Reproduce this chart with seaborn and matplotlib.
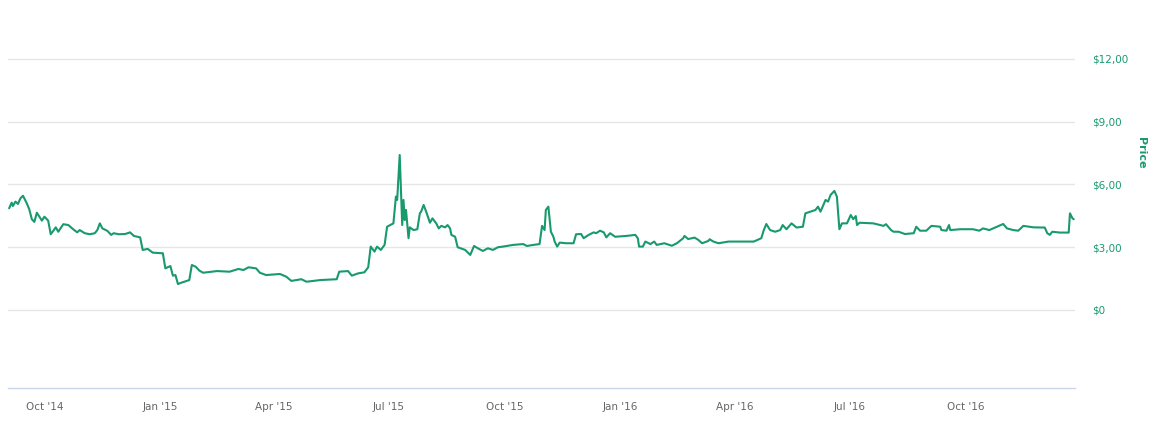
import matplotlib
matplotlib.use("Agg")
import matplotlib.pyplot as plt
import matplotlib.dates as mdates
import matplotlib.ticker as mticker
import numpy as np
import pandas as pd
import seaborn as sns

# days since 2014-09-01 and the price
day_offsets = [
    2, 4, 5, 7, 9, 11, 13, 16, 18, 20, 22, 24, 26, 28, 30, 33, 35, 37, 39, 41,
    45, 49, 52, 56, 58, 62, 66, 70, 72, 74, 76, 80, 83, 85, 89, 94, 98, 101, 106, 108,
    112, 116, 124, 126, 130, 132, 134, 136, 139, 145, 147, 150, 153, 156, 167, 177, 184, 188, 192, 198,
    201, 206, 217, 222, 226, 234, 238, 249, 262, 264, 271, 274, 279, 284, 287, 289, 292, 294, 297, 300,
    302, 307, 309, 310, 312, 313, 314, 315, 316, 317, 319, 320, 323, 326, 328, 329, 331, 333, 336, 338,
    341, 343, 345, 348, 350, 352, 353, 356, 358, 364, 368, 371, 374, 378, 382, 386, 390, 394, 402, 410,
    413, 418, 423, 425, 427, 428, 430, 432, 434, 435, 437, 439, 444, 450, 452, 456, 458, 462, 466, 468,
    471, 474, 476, 479, 483, 492, 499, 501, 502, 505, 507, 511, 514, 516, 522, 528, 532, 537, 538, 541,
    546, 549, 552, 557, 558, 561, 565, 573, 582, 593, 599, 601, 603, 606, 610, 614, 616, 619, 623, 627,
    632, 634, 638, 642, 644, 646, 650, 652, 654, 657, 659, 660, 661, 663, 667, 670, 672, 674, 675, 677,
    688, 696, 698, 702, 704, 708, 713, 720, 722, 725, 730, 734, 741, 742, 746, 748, 749, 757, 767, 772,
    775, 780, 786, 791, 794, 799, 803, 807, 815, 824, 826, 828, 830, 836, 843, 844, 846, 847,
]
prices = [
    4.86, 5.13, 4.97, 5.18, 5.07, 5.34, 5.46, 5.10, 4.81, 4.34, 4.21, 4.65, 4.46, 4.27, 4.46, 4.27, 3.62, 3.78, 3.95, 3.74,
    4.10, 4.06, 3.90, 3.71, 3.82, 3.67, 3.62, 3.67, 3.82, 4.14, 3.90, 3.78, 3.59, 3.67, 3.62, 3.63, 3.71, 3.54, 3.47, 2.87,
    2.92, 2.74, 2.71, 1.99, 2.10, 1.64, 1.67, 1.24, 1.31, 1.43, 2.15, 2.07, 1.88, 1.78, 1.86, 1.83, 1.96, 1.91, 2.04, 1.99,
    1.78, 1.67, 1.72, 1.59, 1.39, 1.47, 1.35, 1.43, 1.47, 1.83, 1.86, 1.64, 1.75, 1.80, 2.04, 3.03, 2.79, 3.03, 2.87, 3.11,
    3.98, 4.14, 5.42, 5.26, 7.41, 5.74, 4.06, 5.26, 4.30, 4.78, 3.43, 3.95, 3.82, 3.86, 4.62, 4.70, 5.02, 4.70, 4.17, 4.38,
    4.14, 3.90, 4.02, 3.95, 4.06, 3.90, 3.59, 3.50, 3.00, 2.87, 2.63, 3.06, 2.95, 2.82, 2.95, 2.87, 3.00, 3.03, 3.11, 3.15,
    3.06, 3.11, 3.15, 4.02, 3.82, 4.78, 4.94, 3.74, 3.50, 3.27, 3.03, 3.22, 3.19, 3.19, 3.62, 3.63, 3.43, 3.59, 3.71, 3.67,
    3.79, 3.71, 3.47, 3.67, 3.50, 3.54, 3.59, 3.43, 3.03, 3.03, 3.27, 3.15, 3.27, 3.11, 3.19, 3.07, 3.19, 3.43, 3.54, 3.39,
    3.46, 3.35, 3.19, 3.30, 3.38, 3.27, 3.19, 3.27, 3.27, 3.27, 3.43, 3.82, 4.11, 3.82, 3.74, 3.82, 4.06, 3.86, 4.14, 3.94,
    3.98, 4.62, 4.70, 4.78, 4.94, 4.70, 5.26, 5.18, 5.50, 5.69, 5.42, 4.62, 3.86, 4.14, 4.14, 4.54, 4.34, 4.49, 4.06, 4.17,
    4.14, 4.02, 4.10, 3.82, 3.74, 3.74, 3.63, 3.67, 3.98, 3.79, 3.79, 4.02, 3.98, 3.82, 3.79, 4.06, 3.82, 3.86, 3.86, 3.79,
    3.90, 3.82, 3.98, 4.11, 3.90, 3.82, 3.79, 4.02, 3.95, 3.94, 3.67, 3.59, 3.74, 3.70, 3.70, 4.62, 4.38, 4.34,
]
y_ticks = [0, 3, 6, 9, 12]
x_tick_dates = ["2014-10-01", "2015-01-01", "2015-04-01", "2015-07-01", "2015-10-01",
                "2016-01-01", "2016-04-01", "2016-07-01", "2016-10-01"]

GREEN = "#189a6c"

start = pd.Timestamp("2014-09-01")
df = pd.DataFrame({
    "date": start + pd.to_timedelta(day_offsets, unit="D"),
    "price": prices,
})

sns.set_style("white")
plt.rcParams["font.family"] = ["DejaVu Sans"]

W, H = 1170, 421
fig = plt.figure(figsize=(W / 100, H / 100), dpi=100)
left, right, top, bottom = 8, 1075, 10, 388
ax = fig.add_axes([left / W, 1 - bottom / H, (right - left) / W, (bottom - top) / H])

sns.lineplot(data=df, x="date", y="price", ax=ax, color=GREEN, linewidth=1.5)

ax.set_xlim(start + pd.Timedelta(days=1.1), start + pd.Timedelta(days=848))
ax.set_ylim(-3.73, 14.34)

ax.yaxis.tick_right()
ax.set_yticks(y_ticks)
ax.yaxis.set_major_formatter(mticker.FuncFormatter(
    lambda v, _: "$0" if v == 0 else f"${v:.2f}".replace(".", ",")))
ax.tick_params(axis="y", length=0, pad=12, labelsize=7.5, labelcolor=GREEN)
ax.grid(axis="y", color="#e6e6e6", linewidth=1)
ax.grid(axis="x", visible=False)

ax.set_xticks(pd.to_datetime(x_tick_dates))
ax.xaxis.set_major_formatter(mdates.DateFormatter("%b '%y"))
ax.tick_params(axis="x", length=7, width=1, color="#ccd6eb", pad=3,
               labelsize=7.5, labelcolor="#666666")

for side in ["top", "left", "right"]:
    ax.spines[side].set_visible(False)
ax.spines["bottom"].set_color("#ccd6eb")
ax.spines["bottom"].set_linewidth(1)

ax.set_xlabel("")
ax.set_ylabel("")
fig.text(1141 / W, 1 - 153 / H, "Price", rotation=270, ha="center", va="center",
         color=GREEN, fontsize=8, fontweight="bold")

fig.savefig("out.png", dpi=100)
